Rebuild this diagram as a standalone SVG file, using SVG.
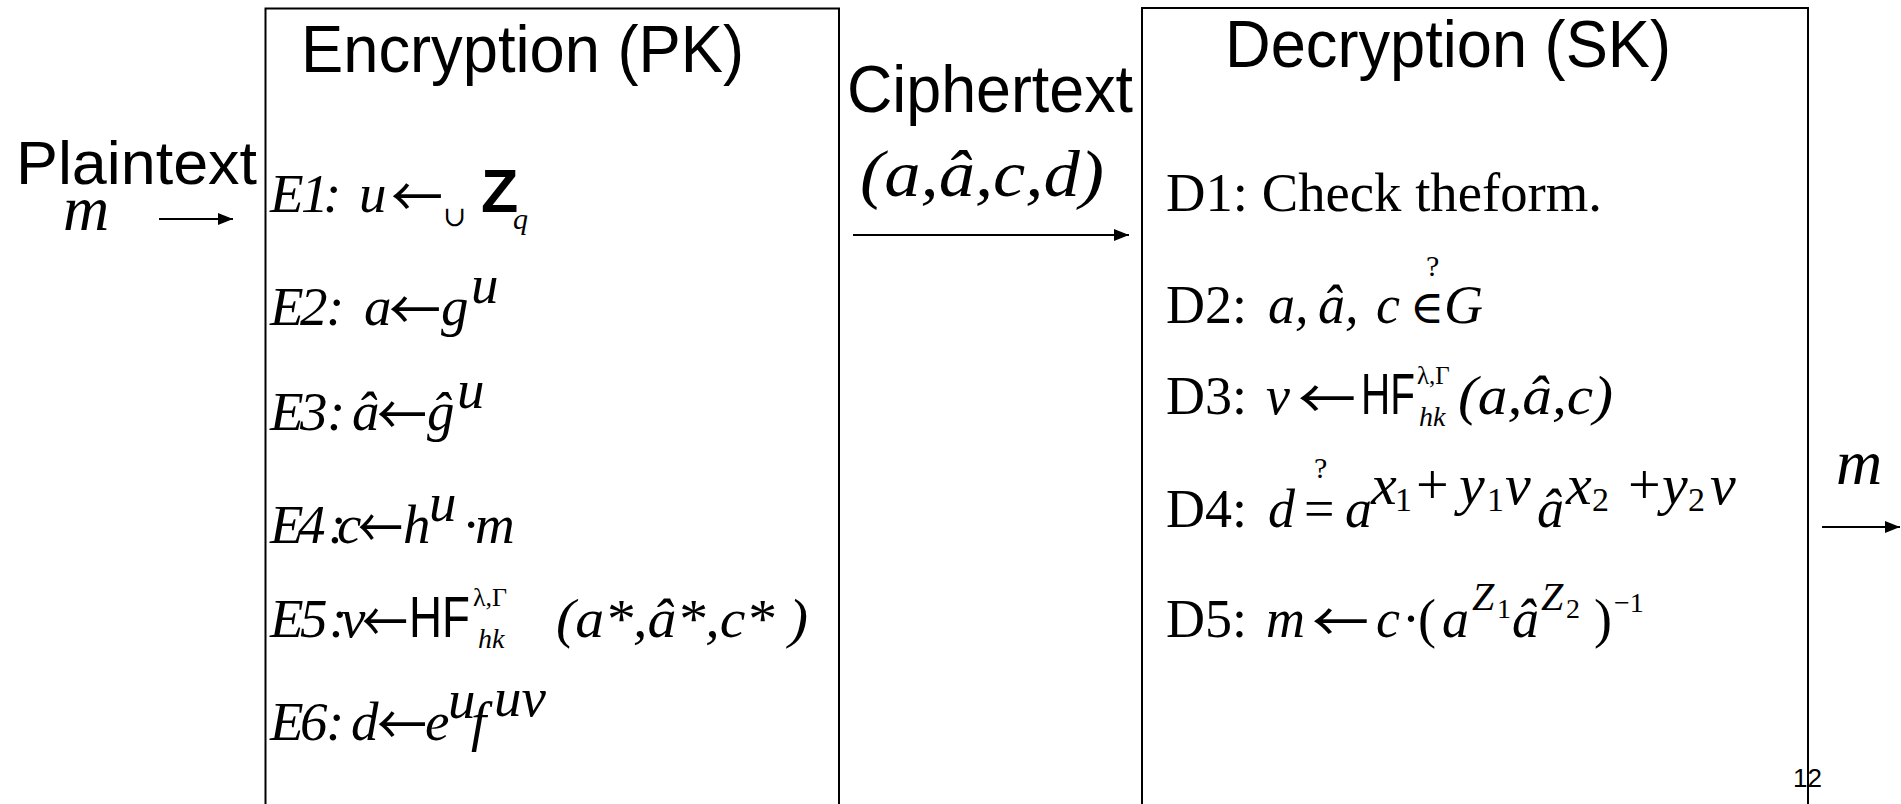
<svg xmlns="http://www.w3.org/2000/svg" width="1901" height="804" viewBox="0 0 1901 804">
<style>
.sans{font-family:"Liberation Sans",Arial,sans-serif;fill:#000}
.ser{font-family:"Liberation Serif","DejaVu Serif",serif;fill:#000}
.arr{font-family:"Noto Sans CJK JP","DejaVu Sans",sans-serif;font-size:54px;fill:#000}
.sym{font-family:"DejaVu Serif",serif;fill:#000}
.it{font-style:italic}
.box{fill:none;stroke:#000;stroke-width:2}
.conn{stroke:#000;stroke-width:2;fill:none}
.e{font-size:55px}
.d{font-size:54px}
.ex{font-size:58px}
.small{font-size:26px}
</style>
<defs>
<marker id="ah" markerUnits="userSpaceOnUse" markerWidth="16" markerHeight="12" refX="15" refY="6" orient="auto">
<path d="M0,0 L15,6 L0,12 z" fill="#000"/>
</marker>
</defs>
<rect x="0" y="0" width="1901" height="804" fill="#fff"/>

<g id="connectors">
<line class="conn" x1="159" y1="219" x2="233" y2="219" marker-end="url(#ah)"/>
<line class="conn" x1="853" y1="235" x2="1129" y2="235" marker-end="url(#ah)"/>
<line class="conn" x1="1822" y1="527" x2="1900" y2="527" marker-end="url(#ah)"/>
</g>

<g id="plaintext">
<text class="sans" x="16" y="184" font-size="62" textLength="241" lengthAdjust="spacingAndGlyphs">Plaintext</text>
<text class="ser it" x="63" y="230" font-size="64">m</text>
</g>

<g id="ciphertext">
<text class="sans" x="847" y="112" font-size="66" textLength="286" lengthAdjust="spacingAndGlyphs">Ciphertext</text>
<text class="ser it" x="860" y="196" font-size="66" textLength="244" lengthAdjust="spacingAndGlyphs">(a,â,c,d)</text>
</g>

<g id="output-m">
<text class="ser it" x="1836" y="484" font-size="64">m</text>
</g>

<g id="encryption">
<rect class="box" x="265.5" y="8.5" width="573.5" height="820"/>
<text class="sans" x="301" y="72" font-size="67" textLength="443" lengthAdjust="spacingAndGlyphs">Encryption (PK)</text>

<text class="ser it e" y="212"><tspan x="270">E</tspan><tspan x="301">1</tspan><tspan x="323">:</tspan><tspan x="359">u</tspan></text>
<text class="arr" x="391" y="217" textLength="52" lengthAdjust="spacingAndGlyphs">←</text>
<text class="sym" x="443" y="226" font-size="28">∪</text>
<text class="sans" x="481" y="212" font-size="61" font-weight="bold">Z</text>
<text class="ser it" x="513" y="229" font-size="30">q</text>

<text class="ser it e" y="325"><tspan x="270">E</tspan><tspan x="300">2</tspan><tspan x="326">:</tspan><tspan x="364">a</tspan><tspan x="441">g</tspan><tspan x="471" y="303">u</tspan></text>
<text class="arr" x="389" y="330" textLength="52" lengthAdjust="spacingAndGlyphs">←</text>

<text class="ser it e" y="430"><tspan x="270">E</tspan><tspan x="300">3</tspan><tspan x="327">:</tspan><tspan x="352">â</tspan><tspan x="427">ĝ</tspan><tspan x="457" y="408">u</tspan></text>
<text class="arr" x="377" y="435" textLength="50" lengthAdjust="spacingAndGlyphs">←</text>

<text class="ser it e" y="543"><tspan x="270">E</tspan><tspan x="298">4</tspan><tspan x="328">:</tspan><tspan x="337">c</tspan><tspan x="403">h</tspan><tspan x="429" y="521">u</tspan></text>
<text class="ser e" x="462" y="543">·</text>
<text class="ser it e" x="475" y="543">m</text>
<text class="arr" x="358" y="548" textLength="45" lengthAdjust="spacingAndGlyphs">←</text>

<text class="ser it e" y="637"><tspan x="270">E</tspan><tspan x="300">5</tspan><tspan x="329">:</tspan><tspan x="341">v</tspan></text>
<text class="arr" x="362" y="642" textLength="46" lengthAdjust="spacingAndGlyphs">←</text>
<text class="sans" x="409" y="637" font-size="58" textLength="61" lengthAdjust="spacingAndGlyphs">HF</text>
<text class="ser small" x="473" y="606">λ,Γ</text>
<text class="ser it" x="478" y="648" font-size="28">hk</text>
<text class="ser it e" x="556" y="637" textLength="252" lengthAdjust="spacingAndGlyphs">(a*,â*,c* )</text>

<text class="ser it e" y="740"><tspan x="270">E</tspan><tspan x="300">6</tspan><tspan x="326">:</tspan><tspan x="351">d</tspan><tspan x="425">e</tspan><tspan x="448" y="718">u</tspan><tspan x="471" y="740">f</tspan><tspan x="494" y="716">uv</tspan></text>
<text class="arr" x="377" y="745" textLength="50" lengthAdjust="spacingAndGlyphs">←</text>
</g>

<g id="decryption">
<rect class="box" x="1142" y="8" width="666" height="820"/>
<text class="sans" x="1225" y="67" font-size="67" textLength="446" lengthAdjust="spacingAndGlyphs">Decryption (SK)</text>

<text class="ser d" x="1166" y="211" textLength="436" lengthAdjust="spacingAndGlyphs">D1: Check theform.</text>

<text class="ser d" x="1166" y="323">D2:</text>
<text class="ser it d" x="1268" y="323">a,</text>
<text class="ser it d" x="1318" y="323">â,</text>
<text class="ser it d" x="1376" y="323">c</text>
<text class="sym" x="1410" y="323" font-size="46">∈</text>
<text class="ser it d" x="1444" y="323">G</text>
<text class="ser" x="1426" y="276" font-size="30">?</text>

<text class="ser d" x="1166" y="414">D3:</text>
<text class="ser it d" x="1266" y="414">v</text>
<text class="arr" x="1298" y="419" textLength="58" lengthAdjust="spacingAndGlyphs">←</text>
<text class="sans" x="1361" y="414" font-size="58" textLength="54" lengthAdjust="spacingAndGlyphs">HF</text>
<text class="ser" x="1417" y="384" font-size="25">λ,Γ</text>
<text class="ser it" x="1419" y="426" font-size="28">hk</text>
<text class="ser it d" x="1458" y="414" textLength="155" lengthAdjust="spacingAndGlyphs">(a,â,c)</text>

<text class="ser d" x="1166" y="527">D4:</text>
<text class="ser it d" x="1268" y="527">d</text>
<text class="ser d" x="1304" y="527">=</text>
<text class="ser" x="1314" y="478" font-size="30">?</text>
<text class="ser it d" x="1345" y="527">a</text>
<text class="ser it d" x="1537" y="527">â</text>
<text class="ser ex" y="504"><tspan class="it" x="1371">x</tspan><tspan x="1416">+</tspan><tspan class="it" x="1459">y</tspan><tspan class="it" x="1505">v</tspan><tspan class="it" x="1566">x</tspan><tspan x="1628">+</tspan><tspan class="it" x="1662">y</tspan><tspan class="it" x="1710">v</tspan></text>
<text class="ser" font-size="34" y="511"><tspan x="1395">1</tspan><tspan x="1487">1</tspan><tspan x="1592">2</tspan><tspan x="1688">2</tspan></text>

<text class="ser d" x="1166" y="637">D5:</text>
<text class="ser it d" x="1266" y="637">m</text>
<text class="arr" x="1312" y="642" textLength="57" lengthAdjust="spacingAndGlyphs">←</text>
<text class="ser it d" x="1376" y="637">c</text>
<text class="ser d" x="1402" y="637">·</text>
<text class="ser d" x="1418" y="637">(</text>
<text class="ser it d" x="1442" y="637">a</text>
<text class="ser it d" x="1512" y="637">â</text>
<text class="ser d" x="1594" y="637">)</text>
<text class="ser it" font-size="40" y="610"><tspan x="1472">Z</tspan><tspan x="1541">Z</tspan></text>
<text class="ser" font-size="28" y="618"><tspan x="1497">1</tspan><tspan x="1566">2</tspan></text>
<text class="ser" font-size="28" x="1614" y="612">−1</text>
</g>

<text class="sans" x="1793" y="787" font-size="26">12</text>
</svg>
